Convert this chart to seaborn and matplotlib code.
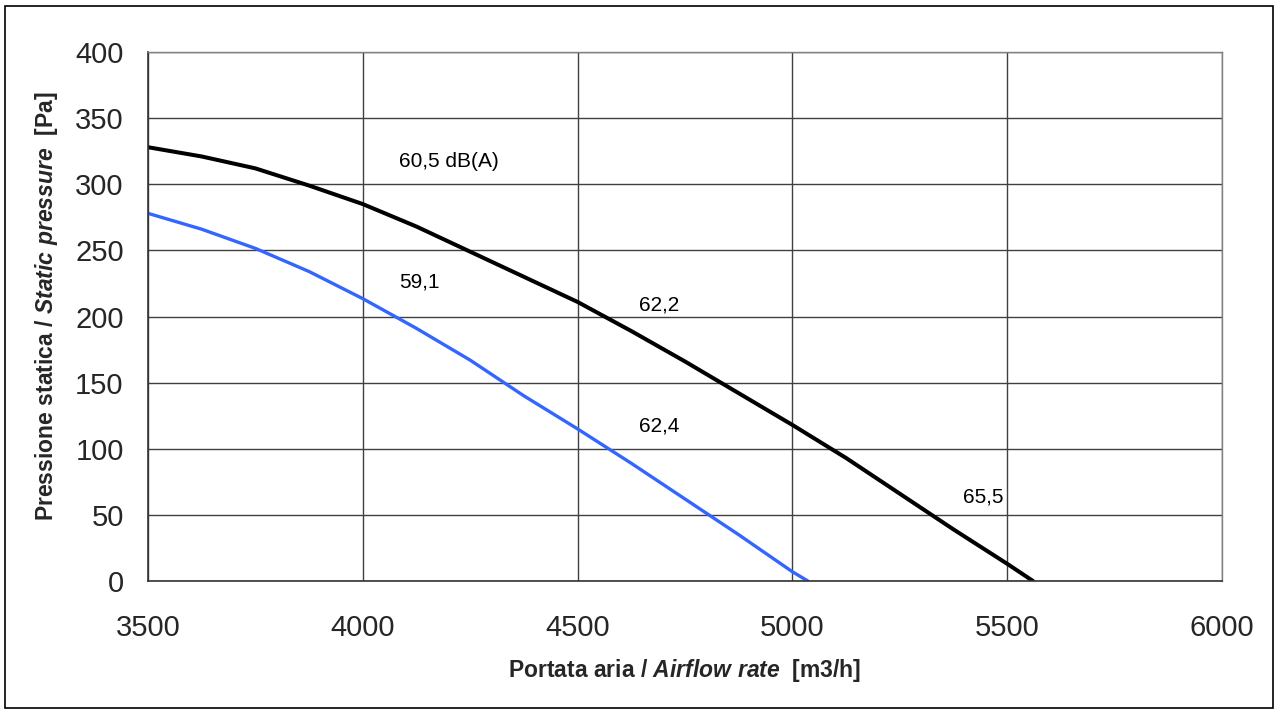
import matplotlib
matplotlib.use("Agg")
import matplotlib.pyplot as plt
import seaborn as sns
import pandas as pd
from matplotlib.patches import Rectangle

# Data
airflow_black = [3500, 3625, 3750, 3875, 4000, 4125, 4250, 4375, 4500, 4625, 4750, 4875, 5000, 5125, 5250, 5375, 5500, 5560]
pressure_black = [328, 321, 312, 299, 285, 268, 249, 230, 211, 189, 166, 142, 118, 93, 66, 39, 13, 0]
airflow_blue = [3500, 3625, 3750, 3875, 4000, 4125, 4250, 4375, 4500, 4625, 4750, 4875, 5000, 5036]
pressure_blue = [278, 266, 251.5, 234, 213.5, 191, 167, 140, 115, 89, 62, 35, 7, 0]
x_ticks = [3500, 4000, 4500, 5000, 5500, 6000]
y_ticks = [0, 50, 100, 150, 200, 250, 300, 350, 400]
annot_text = ["60,5 dB(A)", "59,1", "62,2", "62,4", "65,5"]
annot_x = [4084, 4084, 4642, 4642, 5398]
annot_y = [317, 226, 208.5, 117.5, 63.5]

sns.set_theme(style="white")
plt.rcParams['font.family'] = ['Liberation Sans', 'DejaVu Sans']
plt.rcParams['mathtext.fontset'] = 'custom'
plt.rcParams['mathtext.it'] = 'Liberation Sans:italic:bold'
plt.rcParams['mathtext.rm'] = 'Liberation Sans:bold'

fig = plt.figure(figsize=(12.79, 7.13), dpi=100)
ax = fig.add_axes([148/1279, 1 - 581/713, (1222 - 148)/1279, (581 - 52)/713])

df_b = pd.DataFrame({"x": airflow_black, "y": pressure_black})
df_u = pd.DataFrame({"x": airflow_blue, "y": pressure_blue})
sns.lineplot(data=df_b, x="x", y="y", ax=ax, color="black", lw=2.9, sort=False)
sns.lineplot(data=df_u, x="x", y="y", ax=ax, color="#3366FF", lw=2.4, sort=False)

ax.set_xlim(3500, 6000)
ax.set_ylim(0, 400)
ax.set_xticks(x_ticks)
ax.set_yticks(y_ticks)
ax.tick_params(axis='both', labelsize=21, direction='out', length=7, width=1, color='black')
ax.tick_params(axis='x', pad=16.5)
ax.tick_params(axis='y', pad=10.5)
ax.grid(True, color='#404040', lw=1)
for s in ['top', 'right']:
    ax.spines[s].set_color('#808080')
    ax.spines[s].set_linewidth(1)
for s in ['left', 'bottom']:
    ax.spines[s].set_color('#333333')
    ax.spines[s].set_linewidth(1.2)

ax.set_xlabel(r"Portata aria / $\mathit{Airflow\ rate}$  [m3/h]", fontsize=16.5, fontweight='bold', va='center')
ax.set_ylabel(r"Pressione statica / $\mathit{Static\ pressure}$  [Pa]", fontsize=16.5, fontweight='bold', va='center')
ax.xaxis.set_label_coords(0.5, (581 - 670) / 529)
ax.yaxis.set_label_coords((46.5 - 148) / 1074, (581 - 306.5) / 529)

for t, x, y in zip(annot_text, annot_x, annot_y):
    ax.text(x, y, t, fontsize=15, ha='left', va='center', color='black')

fig.patches.append(Rectangle((5/1279, 5/713), 1 - 11/1279, 1 - 11/713, transform=fig.transFigure,
                             fill=False, edgecolor='black', lw=1.2))

fig.savefig("out.png", dpi=100)
